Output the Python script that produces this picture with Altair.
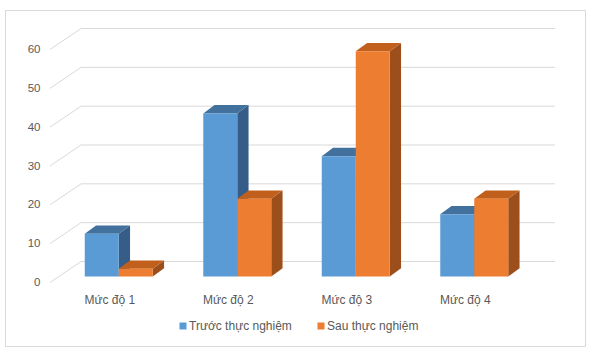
import json
import altair as alt
import pandas as pd

# ---------------- data ----------------
categories = ["Mức độ 1", "Mức độ 2", "Mức độ 3", "Mức độ 4"]
series = ["Trước thực nghiệm", "Sau thực nghiệm"]
before = [11, 42, 31, 16]
after = [2, 20, 58, 20]
y_ticks = [0, 10, 20, 30, 40, 50, 60]

# ---------------- style / geometry (pixels) ----------------
W, H = 580, 336
PX_X0 = 45.0        # left edge of front plane inside the view
PX_CAT = 118.5      # category band width
PX_Y0 = 272.5       # front-plane zero inside the view
PX_UNIT = 3.883     # pixels per value unit
WALL_DX, WALL_DY = 31, 21
BAR_DX, BAR_DY = 9.5, 6
BAR_W = 34
DEP_DX, DEP_DY = 11.3, 8.3

FRONT = ["#5b9bd5", "#ed7d31"]
TOP = ["#41719c", "#c1601d"]
SIDE = ["#355d88", "#9c4f1a"]
GRID = "#d9d9d9"
TXT = "#595959"
FONT = "Liberation Sans"


def ux(px):
    return px / PX_CAT


def uy(px):
    return px / PX_UNIT


x_dom = [(0 - PX_X0) / PX_CAT, (W - PX_X0) / PX_CAT]
y_dom = [(PX_Y0 - H) / PX_UNIT, PX_Y0 / PX_UNIT]
xs = alt.Scale(domain=x_dom, nice=False, zero=False)
ys = alt.Scale(domain=y_dom, nice=False, zero=False)

label_expr = json.dumps(categories, ensure_ascii=False) + "[floor(datum.value)]"
x_axis = alt.Axis(values=[i + 0.5 for i in range(len(categories))], labelExpr=label_expr,
                  domain=False, ticks=False, tickSize=0, grid=False, labelPadding=0,
                  offset=-43, labelBaseline="alphabetic", labelFontSize=12,
                  labelColor=TXT, labelFont=FONT, labelFlush=False, title=None)
y_axis = alt.Axis(values=y_ticks, domain=False, ticks=False, tickSize=0, grid=False,
                  labelPadding=4, offset=-39, labelFontSize=11.5, labelColor=TXT,
                  labelFont=FONT, title=None)

# ---------------- tables ----------------
grid_rows = []
for t in y_ticks:
    grid_rows.append({"tick": t, "k": 0, "x": 0.0, "y": t})
    grid_rows.append({"tick": t, "k": 1, "x": ux(WALL_DX), "y": t + uy(WALL_DY)})
    grid_rows.append({"tick": t, "k": 2, "x": len(categories) + ux(WALL_DX), "y": t + uy(WALL_DY)})
grid_df = pd.DataFrame(grid_rows)

front_rows, side_rows, top_rows = [], [], []
for i, cat in enumerate(categories):
    for s, vals in enumerate([before, after]):
        L = i + 0.5 - ux(BAR_W) + ux(BAR_DX) + s * ux(BAR_W)
        R = L + ux(BAR_W)
        base = uy(BAR_DY)
        top = base + vals[i]
        bid = f"{i}-{s}"
        front_rows.append({"series": series[s], "cat": cat, "L": L, "R": R,
                           "base": base, "top": top, "value": vals[i]})
        side_rows.append({"id": bid, "series": series[s], "x": R, "y": top, "y2": base})
        side_rows.append({"id": bid, "series": series[s], "x": R + ux(DEP_DX),
                          "y": top + uy(DEP_DY), "y2": base + uy(DEP_DY)})
        top_rows.append({"id": bid, "series": series[s], "y": top, "x": L, "x2": R})
        top_rows.append({"id": bid, "series": series[s], "y": top + uy(DEP_DY),
                         "x": L + ux(DEP_DX), "x2": R + ux(DEP_DX)})
front_df = pd.DataFrame(front_rows)
side_df = pd.DataFrame(side_rows)
top_df = pd.DataFrame(top_rows)

# ---------------- layers ----------------
grid = alt.Chart(grid_df).mark_line(color=GRID, strokeWidth=1).encode(
    x=alt.X("x:Q", scale=xs, axis=x_axis),
    y=alt.Y("y:Q", scale=ys, axis=y_axis),
    detail="tick:N",
    order="k:Q",
)

sides = alt.Chart(side_df).mark_area(orient="vertical", opacity=1).encode(
    x=alt.X("x:Q", scale=xs, axis=x_axis),
    y=alt.Y("y:Q", scale=ys, axis=y_axis, stack=None),
    y2="y2:Q",
    detail="id:N",
    color=alt.Color("series:N", scale=alt.Scale(domain=series, range=SIDE), legend=None),
)

tops = alt.Chart(top_df).mark_area(orient="horizontal", opacity=1).encode(
    y=alt.Y("y:Q", scale=ys, axis=y_axis),
    x=alt.X("x:Q", scale=xs, axis=x_axis, stack=None),
    x2="x2:Q",
    detail="id:N",
    color=alt.Color("series:N", scale=alt.Scale(domain=series, range=TOP), legend=None),
)

fronts = alt.Chart(front_df).mark_rect().encode(
    x=alt.X("L:Q", scale=xs, axis=x_axis),
    x2="R:Q",
    y=alt.Y("top:Q", scale=ys, axis=y_axis),
    y2="base:Q",
    color=alt.Color("series:N", scale=alt.Scale(domain=series, range=FRONT),
                    legend=alt.Legend(orient="none", direction="horizontal",
                                      legendX=172, legendY=310, title=None,
                                      symbolType="square", symbolSize=49,
                                      symbolStrokeWidth=0, labelOffset=0,
                                      columnPadding=23, labelFontSize=12,
                                      labelColor=TXT, labelFont=FONT)),
)

chart = alt.layer(grid, sides, tops, fronts).resolve_scale(
    color="independent"
).properties(
    width=W, height=H,
    autosize=alt.AutoSizeParams(type="none"),
    padding={"left": 5, "top": 10, "right": 6, "bottom": 8},
    background="white",
).configure_view(stroke=GRID, strokeWidth=1)

chart.save("out.html", embed_options={"renderer": "svg", "actions": False})
